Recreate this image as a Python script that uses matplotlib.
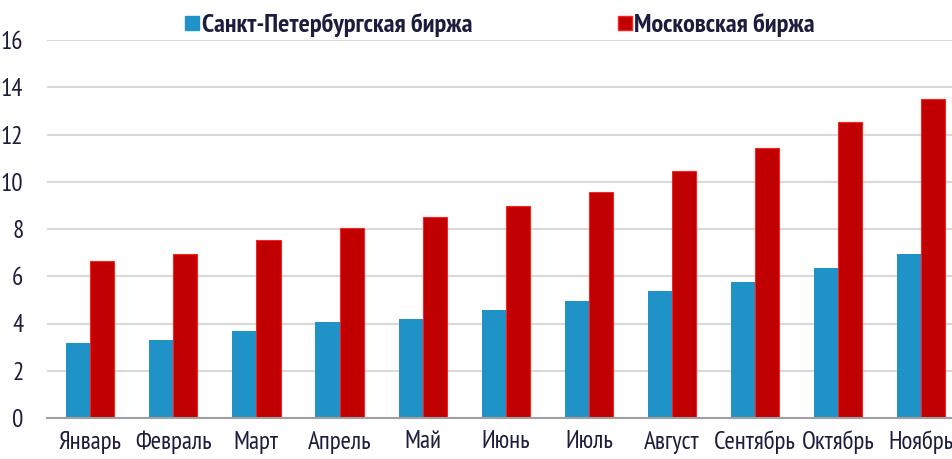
import matplotlib
matplotlib.use("Agg")
import matplotlib.pyplot as plt
import numpy as np
from matplotlib.lines import Line2D

months = ["Январь", "Февраль", "Март", "Апрель", "Май", "Июнь", "Июль",
          "Август", "Сентябрь", "Октябрь", "Ноябрь"]
spb = [3.16, 3.32, 3.69, 4.05, 4.19, 4.58, 4.94, 5.39, 5.76, 6.36, 6.95]
mos = [6.66, 6.95, 7.54, 8.04, 8.50, 8.97, 9.56, 10.45, 11.43, 12.53, 13.50]
series_names = ["Санкт-Петербургская биржа", "Московская биржа"]
yticks = [0, 2, 4, 6, 8, 10, 12, 14, 16]

fonts = ['PT Sans Narrow', 'Liberation Sans', 'DejaVu Sans']
plt.rcParams['font.family'] = fonts
text_color = '#1c1c3c'
blue = '#1f93c8'
red = '#c00000'

fig = plt.figure(figsize=(9.52, 4.59), dpi=100)
ax = fig.add_axes([47/952, 1 - 418/459, 1 - 47/952, (418 - 40)/459])

x = np.arange(len(months))
w = 0.29
ax.bar(x - w/2, spb, width=w, color=blue, linewidth=0, zorder=3)
ax.bar(x + w/2, mos, width=w, color=red, edgecolor='#ff2020', linewidth=0.8, zorder=3)

ax.set_xlim(-0.52, 10.37)
ax.set_ylim(0, 16)
ax.set_yticks(yticks)
ax.set_yticklabels([str(v) for v in yticks])
ax.set_xticks(x)
ax.set_xticklabels(months)
ax.yaxis.grid(True, color='#d9d9d9', linewidth=1.5, zorder=0)
ax.set_axisbelow(True)
for s in ['left', 'right', 'top']:
    ax.spines[s].set_visible(False)
ax.spines['bottom'].set_color('#a0a0a0')
ax.spines['bottom'].set_linewidth(1.5)
ax.spines['bottom'].set_zorder(4)
ax.tick_params(axis='both', length=0, labelsize=18, colors=text_color)
ax.tick_params(axis='y', pad=17)
ax.tick_params(axis='x', pad=9)

handles = [Line2D([], [], marker='s', linestyle='none', markersize=10, color=blue),
           Line2D([], [], marker='s', linestyle='none', markersize=10, color=red,
                  markeredgecolor='#ff2020')]
leg = fig.legend(handles, series_names, loc='center', bbox_to_anchor=(0.525, 1 - 25/459),
                 ncol=2, frameon=False, handlelength=0.55, handletextpad=0.1,
                 columnspacing=5.5, prop={'weight': 'bold', 'size': 19, 'family': fonts})
for t in leg.get_texts():
    t.set_color(text_color)

fig.savefig('out.png', dpi=100)
